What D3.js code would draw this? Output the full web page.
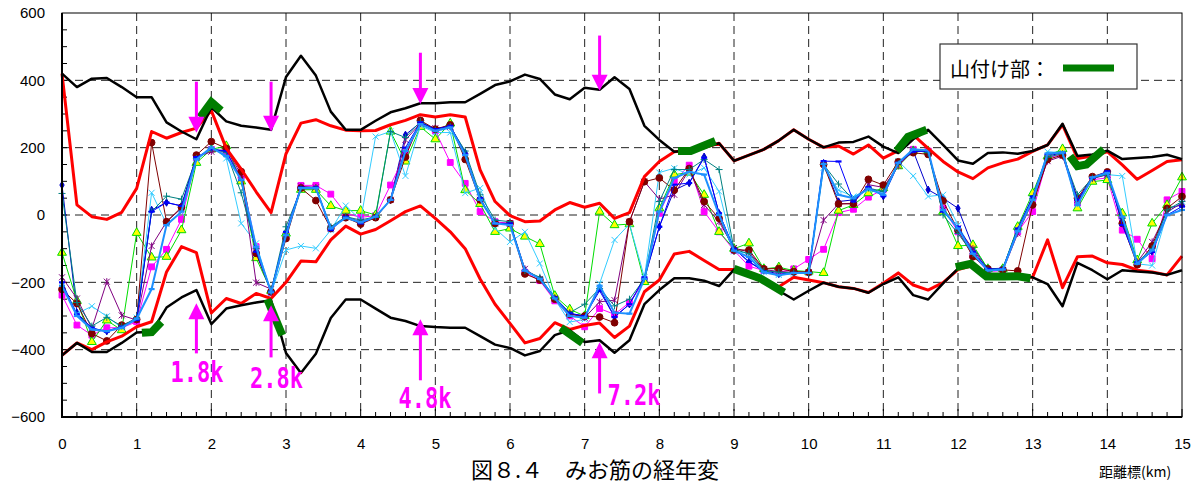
<!DOCTYPE html>
<html>
<head>
<meta charset="utf-8">
<script src="https://cdn.jsdelivr.net/npm/d3@7"></script>
<style>
body { margin: 0; background: #fff; }
svg { display: block; }
</style>
</head>
<body>
<div id="chart"></div>
<script>
// distance markers (km)
var km = [0,0.2,0.4,0.6,0.8,1,1.2,1.4,1.6,1.8,
          2,2.2,2.4,2.6,2.8,3,3.2,3.4,3.6,3.8,
          4,4.2,4.4,4.6,4.8,5,5.2,5.4,5.6,5.8,
          6,6.2,6.4,6.6,6.8,7,7.2,7.4,7.6,7.8,
          8,8.2,8.4,8.6,8.8,9,9.2,9.4,9.6,9.8,
          10,10.2,10.4,10.6,10.8,11,11.2,11.4,11.6,11.8,
          12,12.2,12.4,12.6,12.8,13,13.2,13.4,13.6,13.8,
          14,14.2,14.4,14.6,14.8,15];

var xTicks = [0,1,2,3,4,5,6,7,8,9,10,11,12,13,14,15];
var yTicks = [600,400,200,0,-200,-400,-600];

// outer boundary (black)
var blackUpper = [420,380,405,407,380,350,350,275,248,225,
                  320,278,265,260,253,410,473,414,307,253,
                  253,280,305,317,332,332,335,335,360,386,
                  397,417,404,358,344,378,372,409,374,265,
                  223,188,192,200,213,161,178,195,221,253,
                  225,201,215,217,233,203,184,225,253,208,
                  162,152,184,186,182,190,208,271,175,180,
                  191,166,169,172,179,166];
var blackLower = [-417,-380,-407,-407,-380,-349,-347,-275,-245,-223,
                  -324,-278,-268,-260,-253,-410,-469,-412,-306,-251,
                  -251,-278,-305,-315,-330,-333,-335,-335,-360,-385,
                  -395,-417,-404,-357,-342,-377,-372,-409,-372,-265,
                  -223,-188,-188,-195,-211,-162,-180,-200,-225,-251,
                  -225,-201,-213,-218,-231,-205,-185,-238,-251,-203,
                  -159,-150,-185,-185,-183,-185,-205,-271,-142,-164,
                  -191,-164,-168,-171,-178,-164];

// red lines
var redUpper = [420,30,-5,-13,8,79,248,228,245,258,
                310,198,136,69,7,182,273,283,265,252,
                250,251,268,281,298,291,298,291,134,40,
                -2,-20,-18,15,37,23,35,-10,7,114,
                159,188,192,200,213,161,178,195,221,253,
                225,201,205,181,208,169,191,238,198,159,
                128,108,140,155,166,189,208,268,168,175,
                188,149,106,132,159,164];
var redLower = [-417,-380,-400,-377,-360,-332,-317,-169,-94,-112,
                -291,-248,-263,-233,-248,-200,-137,-139,-74,-33,
                -57,-43,-17,10,27,-10,-50,-100,-190,-265,
                -322,-380,-367,-320,-340,-328,-321,-364,-330,-228,
                -193,-116,-108,-135,-162,-162,-180,-200,-213,-185,
                -193,-201,-213,-218,-230,-203,-172,-208,-223,-201,
                -162,-150,-185,-185,-183,-185,-74,-216,-124,-122,
                -142,-147,-164,-169,-178,-122];

// survey lines
var serNavy = [89,-290,-337,-345,-330,-310,15,37,27,170,
               195,190,104,-109,-228,-60,82,82,-40,-5,
               -25,-5,45,238,275,255,265,185,45,-25,
               -25,-165,-190,-248,-293,-300,-218,-303,-265,-190,
               -35,74,95,173,5,-100,-139,-165,-175,-172,
               -172,154,40,45,83,56,150,190,75,50,
               20,-95,-160,-158,-40,50,175,185,40,110,
               125,-20,-140,-110,20,30];
var serMagenta = [-238,-327,-357,-335,-335,-317,-154,-102,-13,170,
                  195,185,115,-94,-230,-60,88,88,62,5,
                  -7,-2,89,181,270,250,156,94,10,-20,
                  -25,-170,-195,-255,-300,-332,-278,-295,-260,-195,
                  5,100,148,10,-50,-105,-152,-165,-170,-160,
                  -132,-102,7,17,53,76,150,195,190,20,
                  -50,-120,-168,-165,-50,10,170,180,35,105,
                  110,-45,-72,-130,45,70];
var serGreen = [-112,-255,-377,-313,-342,-53,-126,-124,-45,155,
                195,205,100,-128,-225,-55,75,75,27,13,
                13,0,248,159,262,225,272,74,33,-50,
                -40,-64,-86,-240,-280,-300,10,-30,-27,-199,
                20,120,126,60,-50,-100,-84,-160,-155,-165,
                -168,-172,13,30,65,80,145,190,190,10,
                -92,-89,-160,-160,-35,65,175,196,20,99,
                104,5,-134,-25,30,112];
var serCyan = [-208,-293,-271,-301,-335,-305,66,-27,7,165,
               205,168,-25,-84,-232,-104,-92,-99,-45,28,
               -15,233,248,116,265,245,245,65,80,-40,
               -80,-50,-144,-250,-318,-310,-204,-74,-27,-185,
               126,139,120,140,70,-108,-114,-170,-178,-175,
               -172,140,74,55,75,65,160,116,55,60,
               -30,-110,-162,-160,-45,45,188,185,30,110,
               120,116,-145,-150,5,40];
var serPurple = [-185,-248,-337,-198,-298,-312,-92,-20,20,172,
                 188,195,120,-201,-220,-65,85,82,-40,-5,
                 -20,-5,45,223,272,258,262,175,45,-25,
                 -25,-160,-190,-248,-293,-305,-258,-253,-20,99,
                 47,60,135,30,-20,-98,-110,-162,-168,-170,
                 -170,-15,33,35,90,82,146,192,188,15,
                 -40,-100,-165,-165,-55,40,160,175,45,108,
                 120,-15,-140,-80,10,35];
var serMaroon = [-221,-263,-352,-374,-327,-310,215,-20,23,178,
                 218,198,129,-114,-228,-70,80,43,-40,-8,
                 -27,-8,45,172,281,255,268,165,45,-25,
                 -25,-175,-193,-250,-295,-300,-303,-320,-20,99,
                 110,74,138,40,-10,-104,-104,-160,-159,-168,
                 -170,150,33,33,106,89,158,185,180,42,
                 -45,-124,-160,-163,-166,30,165,178,50,114,
                 128,-25,-148,-92,20,55];
var serTeal = [64,-260,-330,-304,-330,-305,10,56,47,168,
               198,185,66,-100,-226,-35,78,78,-35,-5,
               -15,-5,248,230,278,252,262,190,60,-15,
               -20,-165,-185,-245,-290,-265,-218,-270,-250,-190,
               40,135,135,165,135,-102,-115,-165,-170,-172,
               -172,150,92,45,80,70,152,193,185,0,
               -55,-115,-163,-160,-45,48,172,182,60,110,
               120,-10,-140,-100,15,40];
var serBlue = [-200,-295,-335,-347,-332,-312,10,37,27,172,
               195,190,104,-109,-228,-50,82,82,-45,-5,
               -25,-5,45,200,275,255,265,180,50,-25,
               -25,-165,-190,-245,-292,-300,-225,-303,-265,-185,
               -35,90,95,170,5,-100,-139,-168,-178,-172,
               -172,160,159,40,83,56,155,188,190,10,
               -35,-110,-160,-160,-40,55,180,185,45,110,
               130,-30,-140,-110,0,25];
var serAzure = [-210,-300,-340,-345,-335,-308,-220,-30,10,165,
                200,175,105,-95,-230,-60,80,80,-40,-8,
                -22,-5,45,190,270,250,260,178,45,-25,
                -30,-165,-190,-248,-300,-305,-210,-290,-293,-190,
                10,110,128,120,0,-106,-125,-170,-179,-172,
                -172,152,60,50,78,60,155,195,192,15,
                -40,-115,-165,-162,-48,45,183,186,30,112,
                125,-5,-145,-105,0,15];

// mountain-side sections [km, value]
var greenSegments = [
    [[1.07,-350],[1.2,-348],[1.33,-318]],
    [[1.85,290],[2.0,335],[2.13,310]],
    [[2.75,-250],[2.95,-357]],
    [[6.68,-335],[6.97,-380]],
    [[8.25,190],[8.42,190],[8.75,220]],
    [[9.0,-160],[9.35,-188],[9.67,-230]],
    [[11.18,190],[11.33,232],[11.58,253]],
    [[11.97,-155],[12.17,-145],[12.38,-183],[12.6,-183],[12.8,-182],[12.97,-188]],
    [[13.5,175],[13.6,145],[13.72,150],[13.95,195]]
];

var arrowKm = [1.8, 2.8, 4.8, 7.2];
var arrowLabels = ["1.8k", "2.8k", "4.8k", "7.2k"];
var downFrom = [396, 396, 482, 533];
var downTo = [244, 247, 330, 369];
var upFrom = [-411, -423, -491, -530];
var upTo = [-262, -268, -310, -378];

var width = 1198;
var height = 483;
var svg;
var x, y;

function init(){
    svg = d3.select("#chart")
            .append("svg")
            .attr("width", width)
            .attr("height", height);

    x = d3.scaleLinear().domain([0, 15]).range([62, 1182]);
    y = d3.scaleLinear().domain([-600, 600]).range([417, 13]);
}

function markerPath(type){
    if(type == "diamond") return d3.symbol(d3.symbolDiamond, 16)();
    if(type == "square") return d3.symbol(d3.symbolSquare, 34)();
    if(type == "triangle") return d3.symbol(d3.symbolTriangle, 34)();
    if(type == "circle") return d3.symbol(d3.symbolCircle, 36)();
    if(type == "x") return "M-3,-3L3,3M-3,3L3,-3";
    if(type == "star") return "M-3,-3L3,3M-3,3L3,-3M0,-3.5L0,3.5";
    if(type == "plus") return "M-3.5,0L3.5,0M0,-3.5L0,3.5";
    return "M-3,0L3,0";
}

function display(){
    var fontLatin = "'Liberation Sans', Arial, sans-serif";
    var fontJp = "'Noto Sans CJK JP', sans-serif";

    // grid
    var grid = svg.append("g");
    grid.selectAll(".vgrid")
        .data(xTicks.filter(function(d){ return d > 0 && d < 15; }))
        .enter().append("line")
        .attr("x1", function(d){ return x(d); })
        .attr("x2", function(d){ return x(d); })
        .attr("y1", y(600))
        .attr("y2", y(-600))
        .attr("stroke", "#222")
        .attr("stroke-dasharray", "8,5");
    grid.selectAll(".hgrid")
        .data(yTicks.filter(function(d){ return d > -600 && d < 600; }))
        .enter().append("line")
        .attr("x1", x(0))
        .attr("x2", x(15))
        .attr("y1", function(d){ return y(d); })
        .attr("y2", function(d){ return y(d); })
        .attr("stroke", "#222")
        .attr("stroke-dasharray", "8,5");

    // minor ticks
    var minorY = d3.range(-550, 600, 50);
    grid.selectAll(".ytick")
        .data(minorY)
        .enter().append("line")
        .attr("x1", x(0))
        .attr("x2", x(0) + 5)
        .attr("y1", function(d){ return y(d); })
        .attr("y2", function(d){ return y(d); })
        .attr("stroke", "#000");
    grid.selectAll(".xtick")
        .data(km)
        .enter().append("line")
        .attr("x1", function(d){ return x(d); })
        .attr("x2", function(d){ return x(d); })
        .attr("y1", y(-600))
        .attr("y2", function(d){ return y(-600) - (Number.isInteger(d) ? 8 : 5); })
        .attr("stroke", "#000");

    // survey lines
    var series = [
        {v: serNavy, color: "#0000CC", marker: "diamond", w: 1},
        {v: serMagenta, color: "#FF00FF", marker: "square", w: 1},
        {v: serGreen, color: "#00DD00", marker: "triangle", fill: "#FFFF00", w: 1},
        {v: serCyan, color: "#33CCFF", marker: "x", w: 1},
        {v: serPurple, color: "#800080", marker: "star", w: 1},
        {v: serMaroon, color: "#800000", marker: "circle", w: 1},
        {v: serTeal, color: "#008080", marker: "plus", w: 1},
        {v: serBlue, color: "#0000FF", marker: "dash", w: 1},
        {v: serAzure, color: "#1E90FF", marker: "dash", w: 2}
    ];

    var line = d3.line()
        .x(function(d, i){ return x(km[i]); })
        .y(function(d){ return y(d); });

    series.forEach(function(s){
        var g = svg.append("g");
        g.append("path")
            .attr("d", line(s.v))
            .attr("fill", "none")
            .attr("stroke", s.color)
            .attr("stroke-width", s.w);
        var filled = (s.marker == "diamond" || s.marker == "square" || s.marker == "circle");
        g.selectAll(".mk")
            .data(s.v)
            .enter().append("path")
            .attr("transform", function(d, i){ return "translate(" + x(km[i]) + "," + y(d) + ")"; })
            .attr("d", markerPath(s.marker))
            .attr("fill", s.fill ? s.fill : (filled ? s.color : "none"))
            .attr("stroke", s.color)
            .attr("stroke-width", s.marker == "dash" ? 2.2 : 1);
    });

    // boundaries
    var bound = d3.line()
        .x(function(d, i){ return x(km[i]); })
        .y(function(d){ return y(d); });
    [redUpper, redLower].forEach(function(r){
        svg.append("path")
            .attr("d", bound(r))
            .attr("fill", "none")
            .attr("stroke", "#FF0000")
            .attr("stroke-width", 3)
            .attr("stroke-linejoin", "round");
    });
    [blackUpper, blackLower].forEach(function(b){
        svg.append("path")
            .attr("d", bound(b))
            .attr("fill", "none")
            .attr("stroke", "#000")
            .attr("stroke-width", 2.5)
            .attr("stroke-linejoin", "round");
    });

    // 山付け部
    var seg = d3.line()
        .x(function(d){ return x(d[0]); })
        .y(function(d){ return y(d[1]); });
    svg.selectAll(".mount")
        .data(greenSegments)
        .enter().append("path")
        .attr("d", seg)
        .attr("fill", "none")
        .attr("stroke", "#007D00")
        .attr("stroke-width", 8);

    // frame
    svg.append("rect")
        .attr("x", x(0)).attr("y", y(600))
        .attr("width", x(15) - x(0)).attr("height", y(-600) - y(600))
        .attr("fill", "none").attr("stroke", "#000").attr("stroke-width", 1);
    svg.append("path")
        .attr("d", "M" + x(0) + "," + y(600) + "V" + y(-600) + "H" + x(15))
        .attr("fill", "none").attr("stroke", "#000").attr("stroke-width", 2);

    // axes labels
    var yAxis = svg.append("g")
        .attr("transform", "translate(" + (x(0) - 14) + ",0)")
        .call(d3.axisLeft(y).tickValues(yTicks).tickSize(0));
    yAxis.select(".domain").remove();
    yAxis.selectAll("text").attr("font-size", 15).attr("font-family", fontLatin).attr("fill", "#000");

    var xAxis = svg.append("g")
        .attr("transform", "translate(0," + (y(-600) + 18) + ")")
        .call(d3.axisBottom(x).tickValues(xTicks).tickSize(0));
    xAxis.select(".domain").remove();
    xAxis.selectAll("text").attr("font-size", 15).attr("font-family", fontLatin).attr("fill", "#000");

    svg.append("text")
        .attr("x", 1099).attr("y", 477)
        .attr("font-size", 14).attr("font-family", fontJp)
        .text("距離標(km)");

    svg.append("text")
        .attr("x", 595).attr("y", 478)
        .attr("text-anchor", "middle")
        .attr("font-size", 22).attr("font-family", fontJp)
        .text("図８.４　みお筋の経年変");

    // arrows
    var magenta = "#FF00FF";
    var labelDx = [-26, -21, -22, 8];
    var labelY = [382, 388, 408, 405];
    arrowKm.forEach(function(k, i){
        var ax = x(k);
        var t1 = y(downTo[i]);
        svg.append("line")
            .attr("x1", ax).attr("x2", ax)
            .attr("y1", y(downFrom[i])).attr("y2", t1 - 12)
            .attr("stroke", magenta).attr("stroke-width", 3);
        svg.append("path")
            .attr("d", "M" + (ax - 8) + "," + (t1 - 16) + "L" + (ax + 8) + "," + (t1 - 16) + "L" + ax + "," + t1 + "Z")
            .attr("fill", magenta);
        var t2 = y(upTo[i]);
        svg.append("line")
            .attr("x1", ax).attr("x2", ax)
            .attr("y1", y(upFrom[i])).attr("y2", t2 + 12)
            .attr("stroke", magenta).attr("stroke-width", 3);
        svg.append("path")
            .attr("d", "M" + (ax - 8) + "," + (t2 + 16) + "L" + (ax + 8) + "," + (t2 + 16) + "L" + ax + "," + t2 + "Z")
            .attr("fill", magenta);
        svg.append("text")
            .attr("x", ax + labelDx[i]).attr("y", labelY[i])
            .attr("font-size", 29)
            .attr("font-family", "'DejaVu Sans Mono', monospace")
            .attr("font-weight", "bold")
            .attr("textLength", 53)
            .attr("lengthAdjust", "spacingAndGlyphs")
            .attr("fill", magenta)
            .text(arrowLabels[i]);
    });

    // legend
    var lg = svg.append("g");
    lg.append("rect")
        .attr("x", 940).attr("y", 44).attr("width", 197).attr("height", 45)
        .attr("fill", "#fff").attr("stroke", "#333").attr("stroke-width", 1.2);
    lg.append("text")
        .attr("x", 950).attr("y", 77)
        .attr("font-size", 20).attr("font-family", fontJp)
        .text("山付け部：");
    lg.append("line")
        .attr("x1", 1063).attr("x2", 1114).attr("y1", 68).attr("y2", 68)
        .attr("stroke", "#007D00").attr("stroke-width", 7);
}

init();
display();
</script>
</body>
</html>
